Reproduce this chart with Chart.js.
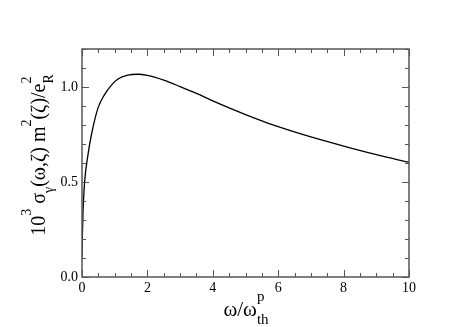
<!DOCTYPE html>
<html>
<head>
<meta charset="utf-8">
<script src="https://cdn.jsdelivr.net/npm/chart.js@4"></script>
<style>
  html, body { margin: 0; padding: 0; background: #fff; }
  #wrap { width: 463px; height: 327px; }
</style>
</head>
<body>
<div id="wrap"><canvas id="chart"></canvas></div>
<script>
// values
const omegaRatio = [0, 0.01, 0.03, 0.08, 0.18, 0.29, 0.49, 0.69, 0.9, 1.1, 1.4, 1.7, 2.0, 2.5, 3.0, 3.5, 4.0, 4.5, 5.0, 5.5, 6.0, 7.0, 8.0, 9.0, 10.0];
const sigmaScaled = [0.1, 0.2, 0.34, 0.5, 0.64, 0.75, 0.89, 0.96, 1.01, 1.042, 1.062, 1.067, 1.061, 1.036, 1.002, 0.966, 0.927, 0.89, 0.855, 0.822, 0.791, 0.737, 0.689, 0.644, 0.603];
const xTicks = [0, 2, 4, 6, 8, 10];
const yTicks = [0, 0.5, 1.0];
const xMinorStep = 0.5;
const yMinorStep = 0.1;

const SERIF = "'Liberation Serif', 'DejaVu Serif', serif";
const AXIS_COLOR = '#555';

// draw a label with super/subscripts, pieces: [text, kind, subText]
function drawRich(ctx, pieces, x, y, size) {
  const big = size + 'px ' + SERIF;
  const small = Math.round(size * 0.7) + 'px ' + SERIF;
  const up = size * 0.72, down = size * 0.4;
  const widthOf = p => {
    if (p[1] === 'n') { ctx.font = big; return ctx.measureText(p[0]).width; }
    ctx.font = small;
    if (p[1] === 'supsub') return Math.max(ctx.measureText(p[0]).width, ctx.measureText(p[2]).width);
    return ctx.measureText(p[0]).width;
  };
  const total = pieces.reduce((s, p) => s + widthOf(p), 0);
  let cx = x - total / 2;
  ctx.textBaseline = 'alphabetic';
  ctx.textAlign = 'left';
  for (const p of pieces) {
    const w = widthOf(p);
    if (p[1] === 'n') { ctx.font = big; ctx.fillText(p[0], cx, y); }
    else {
      ctx.font = small;
      if (p[1] === 'sup') ctx.fillText(p[0], cx, y - up);
      else if (p[1] === 'sub') ctx.fillText(p[0], cx, y + down);
      else { ctx.fillText(p[0], cx, y - up); ctx.fillText(p[2], cx, y + down); }
    }
    cx += w;
  }
}

const framePlugin = {
  id: 'frame',
  afterDraw(chart) {
    const { ctx, chartArea: a, scales } = chart;
    const xs = scales.x, ys = scales.y;
    ctx.save();
    ctx.strokeStyle = AXIS_COLOR;
    ctx.lineWidth = 1.5;
    ctx.strokeRect(a.left, a.top, a.right - a.left, a.bottom - a.top);

    ctx.lineWidth = 1;
    ctx.beginPath();
    // ticks on all four sides, pointing inward
    for (let v = xs.min; v <= xs.max + 1e-9; v += xMinorStep) {
      const px = Math.round(xs.getPixelForValue(v)) + 0.5;
      const len = xTicks.some(t => Math.abs(t - v) < 1e-9) ? 7 : 4;
      ctx.moveTo(px, a.bottom); ctx.lineTo(px, a.bottom - len);
      ctx.moveTo(px, a.top); ctx.lineTo(px, a.top + len);
    }
    for (let v = ys.min; v <= ys.max + 1e-9; v += yMinorStep) {
      const py = Math.round(ys.getPixelForValue(v)) + 0.5;
      const len = yTicks.some(t => Math.abs(t - v) < 1e-9) ? 7 : 4;
      ctx.moveTo(a.left, py); ctx.lineTo(a.left + len, py);
      ctx.moveTo(a.right, py); ctx.lineTo(a.right - len, py);
    }
    ctx.stroke();

    // axis titles
    ctx.fillStyle = '#000';
    drawRich(ctx, [['ω/ω', 'n'], ['p', 'supsub', 'th']], 246, 316, 21);
    ctx.translate(45, 155);
    ctx.rotate(-Math.PI / 2);
    drawRich(ctx, [
      ['10', 'n'], ['3', 'sup'], [' σ', 'n'], ['γ', 'sub'], ['(ω,ζ) m', 'n'],
      ['2', 'sup'], ['(ζ)/e', 'n'], ['2', 'supsub', 'R']
    ], 0, 0, 20);
    ctx.restore();
  }
};

const ctx = document.getElementById('chart').getContext('2d');
new Chart(ctx, {
  type: 'line',
  data: {
    datasets: [{
      data: omegaRatio.map((x, i) => ({ x, y: sigmaScaled[i] })),
      borderColor: '#000',
      borderWidth: 1.3,
      pointRadius: 0,
      fill: false,
      cubicInterpolationMode: 'monotone'
    }]
  },
  options: {
    responsive: true,
    maintainAspectRatio: false,
    animation: false,
    layout: { padding: { top: 49, right: 54, left: 0, bottom: 0 } },
    plugins: { legend: { display: false }, tooltip: { enabled: false } },
    scales: {
      x: {
        type: 'linear',
        min: 0,
        max: 10,
        afterBuildTicks: s => { s.ticks = xTicks.map(v => ({ value: v })); },
        afterFit: s => { s.height = 50; },
        grid: { display: false, drawTicks: false },
        border: { display: false },
        ticks: { color: '#000', padding: 3, maxRotation: 0, font: { family: SERIF, size: 14 }, callback: v => String(v) }
      },
      y: {
        type: 'linear',
        min: 0,
        max: 1.2,
        afterBuildTicks: s => { s.ticks = yTicks.map(v => ({ value: v })); },
        afterFit: s => { s.width = 82; },
        grid: { display: false, drawTicks: false },
        border: { display: false },
        ticks: { color: '#000', padding: 4, font: { family: SERIF, size: 14 }, callback: v => v.toFixed(1) }
      }
    }
  },
  plugins: [framePlugin]
});
</script>
</body>
</html>
